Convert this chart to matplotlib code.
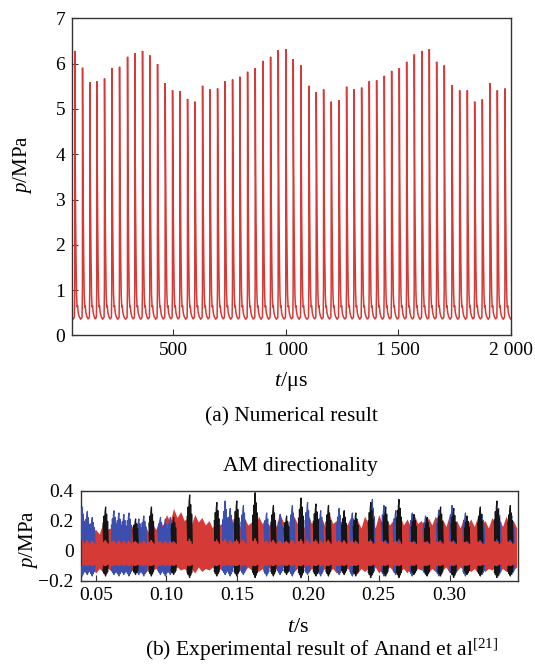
import matplotlib
matplotlib.use("Agg")
import matplotlib.pyplot as plt

plt.rcParams['font.family'] = ['Liberation Serif', 'DejaVu Serif']
plt.rcParams['mathtext.fontset'] = 'custom'
plt.rcParams['mathtext.rm'] = 'Liberation Serif'
plt.rcParams['mathtext.it'] = 'Liberation Serif:italic'

# ---- (a) numerical result: peak times (us) and peak pressures (MPa)
peak_t = [62.7, 96.8, 129.3, 160.4, 194.5, 227.1, 261.2, 296.8, 329.3, 363.4,
          396.0, 430.1, 464.1, 496.8, 529.3, 563.4, 596.0, 630.1, 662.7, 696.8,
          729.3, 763.4, 796.0, 830.1, 864.1, 898.2, 932.3, 966.4, 1000.4, 1033.0,
          1067.1, 1102.7, 1135.2, 1167.9, 1201.9, 1236.0, 1270.0, 1302.7, 1336.8, 1370.8,
          1403.4, 1437.5, 1470.1, 1504.1, 1536.8, 1570.8, 1604.9, 1637.5, 1670.1, 1704.1,
          1738.2, 1772.3, 1806.4, 1839.0, 1873.0, 1907.1, 1939.7, 1973.8]
peak_p = [6.28, 5.91, 5.59, 5.61, 5.67, 5.90, 5.93, 6.15, 6.23, 6.28,
          6.18, 5.99, 5.57, 5.41, 5.39, 5.22, 5.16, 5.51, 5.43, 5.45,
          5.61, 5.65, 5.71, 5.82, 5.90, 6.06, 6.15, 6.30, 6.32, 6.10,
          5.96, 5.51, 5.37, 5.43, 5.16, 5.19, 5.49, 5.43, 5.47, 5.61,
          5.63, 5.73, 5.84, 5.90, 6.04, 6.20, 6.28, 6.32, 6.04, 5.96,
          5.52, 5.41, 5.41, 5.16, 5.21, 5.57, 5.41, 5.45]
# shape of one pulse around its peak (offset us, pressure MPa); None = peak value
pulse_dt = [-8.0, -2.0, -0.5, 0.0, 1.5, 3.5, 5.5, 7.5, 10.0, 12.0, 15.0, 19.0, 24.0]
pulse_p = [0.36, 0.40, 1.0, None, 4.0, 2.6, 1.6, 0.9, 0.62, 0.66, 0.50, 0.42, 0.37]

# ---- (b) experimental result
# red band: crest values at red_t, trough values half a step later
red_t = [0.040, 0.045, 0.050, 0.055, 0.060, 0.065, 0.070, 0.075, 0.080, 0.085,
         0.090, 0.095, 0.100, 0.105, 0.110, 0.115, 0.120, 0.125, 0.130, 0.135,
         0.140, 0.145, 0.150, 0.155, 0.160, 0.165, 0.170, 0.175, 0.180, 0.185,
         0.190, 0.195, 0.200, 0.205, 0.210, 0.215, 0.220, 0.225, 0.230, 0.235,
         0.240, 0.245, 0.250, 0.255, 0.260, 0.265, 0.270, 0.275, 0.280, 0.285,
         0.290, 0.295, 0.300, 0.305, 0.310, 0.315, 0.320, 0.325, 0.330, 0.335,
         0.340, 0.345]
red_top = [0.12, 0.17, 0.14, 0.18, 0.15, 0.20, 0.14, 0.17, 0.19, 0.16,
           0.18, 0.21, 0.24, 0.28, 0.26, 0.22, 0.24, 0.22, 0.20, 0.22,
           0.19, 0.24, 0.20, 0.22, 0.19, 0.23, 0.21, 0.22, 0.25, 0.20,
           0.23, 0.21, 0.24, 0.22, 0.21, 0.24, 0.20, 0.23, 0.22, 0.20,
           0.23, 0.21, 0.24, 0.22, 0.20, 0.23, 0.21, 0.24, 0.20, 0.22,
           0.23, 0.21, 0.24, 0.20, 0.22, 0.21, 0.23, 0.20, 0.22, 0.21,
           0.23, 0.20]
red_dip = [0.10, 0.13, 0.11, 0.14, 0.12, 0.14, 0.11, 0.14, 0.14, 0.12,
           0.14, 0.16, 0.19, 0.22, 0.20, 0.17, 0.19, 0.17, 0.15, 0.17,
           0.14, 0.18, 0.15, 0.17, 0.14, 0.18, 0.16, 0.16, 0.19, 0.15,
           0.18, 0.15, 0.18, 0.17, 0.15, 0.18, 0.15, 0.17, 0.17, 0.15,
           0.18, 0.15, 0.18, 0.17, 0.15, 0.17, 0.16, 0.18, 0.15, 0.17,
           0.17, 0.16, 0.18, 0.15, 0.17, 0.16, 0.17, 0.15, 0.17, 0.16,
           0.17, 0.15]
red_bot = [-0.14, -0.13, -0.15, -0.14, -0.13, -0.15, -0.14, -0.13, -0.14, -0.15,
           -0.13, -0.14, -0.15, -0.14, -0.13, -0.14, -0.15, -0.14, -0.13, -0.15,
           -0.14, -0.13, -0.15, -0.14, -0.13, -0.14, -0.15, -0.14, -0.13, -0.15,
           -0.14, -0.13, -0.15, -0.14, -0.13, -0.14, -0.15, -0.14, -0.13, -0.15,
           -0.14, -0.13, -0.15, -0.14, -0.13, -0.14, -0.15, -0.14, -0.13, -0.15,
           -0.14, -0.13, -0.15, -0.14, -0.13, -0.14, -0.15, -0.14, -0.13, -0.15,
           -0.14, -0.13]
red_bot_dip = [-0.12, -0.11, -0.12, -0.11, -0.12, -0.12, -0.11, -0.12, -0.11, -0.12,
               -0.12, -0.11, -0.12, -0.11, -0.12, -0.12, -0.11, -0.12, -0.11, -0.12,
               -0.12, -0.11, -0.12, -0.11, -0.12, -0.12, -0.11, -0.12, -0.11, -0.12,
               -0.12, -0.11, -0.12, -0.11, -0.12, -0.12, -0.11, -0.12, -0.11, -0.12,
               -0.12, -0.11, -0.12, -0.11, -0.12, -0.12, -0.11, -0.12, -0.11, -0.12,
               -0.12, -0.11, -0.12, -0.11, -0.12, -0.12, -0.11, -0.12, -0.11, -0.12,
               -0.12, -0.11]

black_t = [0.057, 0.0782, 0.0894, 0.1051, 0.1164, 0.1356, 0.1497, 0.1627, 0.1756, 0.1849,
           0.1951, 0.2056, 0.2145, 0.2256, 0.2338, 0.2444, 0.2549, 0.2643, 0.2749, 0.2842,
           0.2937, 0.3030, 0.3124, 0.3218, 0.3335, 0.3430]
black_top = [0.29, 0.21, 0.29, 0.22, 0.37, 0.32, 0.33, 0.385, 0.30, 0.23,
             0.35, 0.31, 0.30, 0.265, 0.25, 0.32, 0.29, 0.34, 0.24, 0.22,
             0.29, 0.28, 0.23, 0.29, 0.33, 0.30]
black_bot = [-0.17, -0.16, -0.17, -0.16, -0.18, -0.17, -0.17, -0.18, -0.17, -0.16,
             -0.18, -0.17, -0.17, -0.16, -0.17, -0.18, -0.17, -0.18, -0.16, -0.17,
             -0.17, -0.18, -0.16, -0.17, -0.18, -0.17]

blue_t = [0.0406, 0.0441, 0.0476, 0.0629, 0.0664, 0.0699, 0.0735, 0.0805, 0.0840, 0.0958,
          0.0993, 0.1028, 0.1415, 0.1451, 0.1544, 0.1708, 0.1803, 0.189, 0.1997, 0.209,
          0.222, 0.2314, 0.2455, 0.2537, 0.262, 0.2737, 0.2831, 0.2925, 0.3018, 0.3113,
          0.323, 0.3347, 0.344]
blue_top = [0.29, 0.26, 0.22, 0.265, 0.25, 0.24, 0.25, 0.21, 0.23, 0.22,
            0.21, 0.22, 0.33, 0.28, 0.30, 0.25, 0.24, 0.30, 0.32, 0.265,
            0.28, 0.25, 0.34, 0.30, 0.265, 0.25, 0.23, 0.27, 0.30, 0.25,
            0.24, 0.28, 0.23]
blue_bot = [-0.17, -0.16, -0.17, -0.16, -0.17, -0.16, -0.17, -0.16, -0.17, -0.16,
            -0.17, -0.16, -0.16, -0.17, -0.16, -0.17, -0.16, -0.17, -0.16, -0.17,
            -0.16, -0.17, -0.16, -0.17, -0.16, -0.17, -0.16, -0.17, -0.16, -0.17,
            -0.16, -0.17, -0.16]

# zigzag used for each burst (offset s, fraction of burst height)
burst_dt = [-0.0018, -0.0014, -0.0011, -0.0007, -0.0004, 0.0, 0.0003, 0.0007, 0.0010, 0.0014, 0.0018]
burst_f = [0.55, 0.05, 0.75, 0.10, 0.85, 1.0, 0.10, 0.80, 0.05, 0.60, 0.0]

RED = '#d63a36'
BLUE = '#3c4fae'
BLACK = '#151515'
SPINE = '#333333'

fig = plt.figure(figsize=(5.35, 6.66), dpi=100)

# ---------------- top panel
ax1 = fig.add_axes([72 / 535, 1 - 335.4 / 666, (510.9 - 72) / 535, (335.4 - 18.3) / 666])
tt, pp = [], []
for tp, hp in zip(peak_t, peak_p):
    for d, v in zip(pulse_dt, pulse_p):
        tt.append(tp + d)
        pp.append(hp if v is None else v)
tt = [50.0] + tt + [2000.0]
pp = [0.37] + pp + [0.36]
ax1.plot(tt, pp, color=RED, lw=1.1, solid_joinstyle='miter')
ax1.set_xlim(50, 2000)
ax1.set_ylim(0, 7)
ax1.set_xticks([500, 1000, 1500, 2000])
ax1.set_xticklabels(['500', '1 000', '1 500', '2 000'])
ax1.set_yticks(range(0, 8))

# ---------------- bottom panel
ax2 = fig.add_axes([80.7 / 535, 1 - 580.5 / 666, (518 - 80.7) / 535, (580.5 - 490.5) / 666])
half = 0.0025
band_x, band_hi, band_lo = [], [], []
for t0, a, b, c, d in zip(red_t, red_top, red_dip, red_bot, red_bot_dip):
    band_x += [t0, t0 + half]
    band_hi += [a, b]
    band_lo += [c, d]
ax2.fill_between(band_x, band_lo, band_hi, color=RED, lw=0, zorder=2)


def burst(ax, times, tops, bots, color, z):
    for t0, hi, lo in zip(times, tops, bots):
        xs = [t0 + d for d in burst_dt]
        ax.plot(xs, [0.05 + f * (hi - 0.05) for f in burst_f], color=color, lw=0.9, zorder=z)
        ax.plot(xs, [-0.10 + f * (lo + 0.10) for f in burst_f], color=color, lw=0.9, zorder=z)


burst(ax2, blue_t, blue_top, blue_bot, BLUE, 3)
burst(ax2, black_t, black_top, black_bot, BLACK, 4)
ax2.set_xlim(0.0394, 0.3484)
ax2.set_ylim(-0.2, 0.4)
ax2.set_xticks([0.05, 0.10, 0.15, 0.20, 0.25, 0.30])
ax2.set_xticklabels(['0.05', '0.10', '0.15', '0.20', '0.25', '0.30'])
ax2.set_yticks([-0.2, 0, 0.2, 0.4])
ax2.set_yticklabels(['\u22120.2', '0', '0.2', '0.4'])

for ax, fs in ((ax1, 14), (ax2, 14)):
    for s in ax.spines.values():
        s.set_color(SPINE)
        s.set_linewidth(1.0)
    ax.tick_params(direction='in', length=4, width=0.8, color=SPINE,
                   labelsize=fs, top=False, right=False, pad=5)

# ---------------- texts
fig.text(23 / 535, 1 - 165 / 666, '$p$/MPa', rotation=90, ha='center', va='center', fontsize=15)
fig.text(291 / 535, 1 - 382 / 666, '$t$/\u03bcs', ha='center', va='center', fontsize=16)
fig.text(291 / 535, 1 - 417 / 666, '(a) Numerical result', ha='center', va='center', fontsize=15.4)

fig.text(300 / 535, 1 - 467 / 666, 'AM directionality', ha='center', va='center', fontsize=15.5)
fig.text(29 / 535, 1 - 540 / 666, '$p$/MPa', rotation=90, ha='center', va='center', fontsize=15)
fig.text(298 / 535, 1 - 628 / 666, '$t$/s', ha='center', va='center', fontsize=16)
fig.text(322 / 535, 1 - 650 / 666, '(b) Experimental result of Anand et al$^{[21]}$',
         ha='center', va='center', fontsize=15.5)

fig.savefig('out.png', dpi=100)
